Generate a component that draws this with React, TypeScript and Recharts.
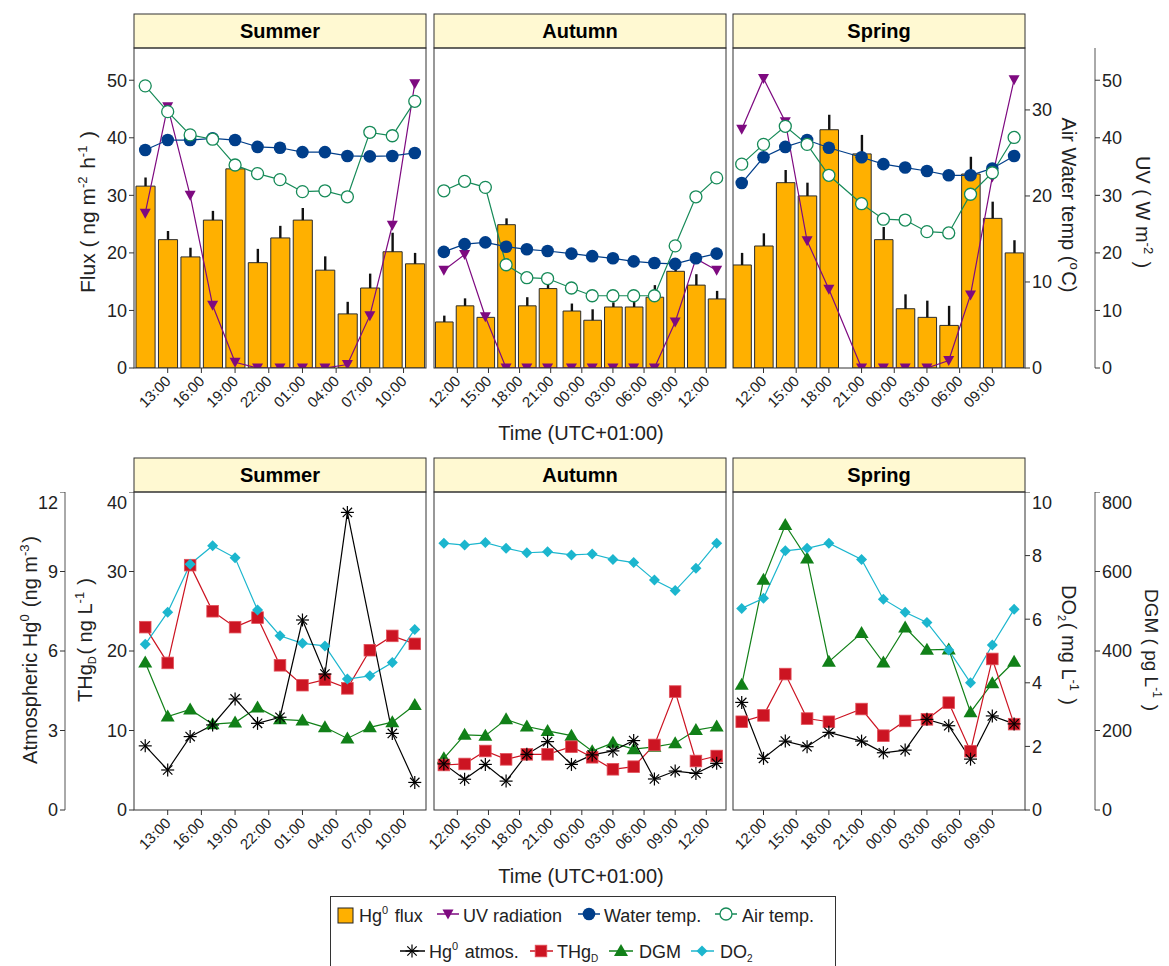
import React from 'react'
import { ComposedChart, Bar, Line, XAxis, YAxis, ErrorBar } from 'recharts'

const FONT = "'Liberation Sans', Arial, Helvetica, sans-serif"

// sampling times in hours after midnight of the first day (>24 = next day)
const summerHours = [11, 13, 15, 17, 19, 21, 23, 25, 27, 29, 31, 33, 35]
const autumnHours = [10.7, 12.7, 14.7, 16.7, 18.7, 20.7, 23, 25, 27, 29, 31, 33, 35, 37]
const springHours = [10, 12, 14, 16, 18, 21, 23, 25, 27, 29, 31, 33, 35]

const summerTicks = [13, 16, 19, 22, 25, 28, 31, 34]
const summerTickLabels = ['13:00', '16:00', '19:00', '22:00', '01:00', '04:00', '07:00', '10:00']
const autumnTicks = [12, 15, 18, 21, 24, 27, 30, 33, 36]
const autumnTickLabels = ['12:00', '15:00', '18:00', '21:00', '00:00', '03:00', '06:00', '09:00', '12:00']
const springTicks = [12, 15, 18, 21, 24, 27, 30, 33]
const springTickLabels = ['12:00', '15:00', '18:00', '21:00', '00:00', '03:00', '06:00', '09:00']

// Hg0 flux (ng m-2 h-1) and its upper error
const summerFlux = [31.6, 22.3, 19.3, 25.7, 34.6, 18.3, 22.6, 25.7, 17.0, 9.4, 13.9, 20.2, 18.1]
const summerFluxErr = [1.5, 1.5, 1.6, 1.6, 0.5, 2.4, 2.1, 2.1, 2.4, 2.1, 2.5, 3.3, 1.9]
const autumnFlux = [8.0, 10.8, 8.8, 24.9, 10.8, 13.8, 9.9, 8.3, 10.6, 10.6, 12.3, 16.8, 14.4, 12.0]
const autumnFluxErr = [1.1, 1.3, 0.5, 1.1, 1.5, 0.9, 1.3, 1.9, 0.8, 0.9, 2.1, 0.5, 1.9, 1.4]
const springFlux = [17.9, 21.2, 32.2, 29.9, 41.4, 37.2, 22.3, 10.3, 8.8, 7.4, 33.7, 26.0, 20.0]
const springFluxErr = [2.1, 2.2, 2.2, 2.3, 2.6, 3.3, 2.2, 2.5, 2.9, 3.4, 3.0, 2.9, 2.2]

// UV radiation (W m-2)
const summerUV = [26.9, 45.4, 30.0, 10.9, 1.0, 0, 0, 0, 0, 0.6, 9.1, 24.8, 49.4]
const autumnUV = [17.0, 19.7, 8.9, 0, 0, 0, 0, 0, 0, 0, 0, 8.0, 19.0, 17.0]
const springUV = [41.5, 50.3, 42.8, 22.1, 13.7, 0, 0, 0, 0, 1.3, 12.7, 33.2, 50.1]

// water and air temperature (°C)
const summerWater = [25.35, 26.5, 26.5, 26.7, 26.5, 25.7, 25.6, 25.1, 25.1, 24.65, 24.6, 24.65, 25.0]
const summerAir = [32.8, 29.8, 27.1, 26.6, 23.6, 22.6, 21.9, 20.5, 20.6, 19.9, 27.4, 27.0, 31.0]
const autumnWater = [13.5, 14.4, 14.6, 14.1, 13.8, 13.6, 13.3, 13.0, 12.75, 12.4, 12.2, 12.1, 12.75, 13.3]
const autumnAir = [20.6, 21.7, 21.0, 12.0, 10.5, 10.4, 9.3, 8.4, 8.4, 8.4, 8.4, 14.2, 19.9, 22.1]
const springWater = [21.5, 24.5, 25.7, 26.5, 25.6, 24.5, 23.7, 23.3, 22.9, 22.4, 22.4, 23.2, 24.65]
const springAir = [23.7, 26.0, 28.1, 26.0, 22.4, 19.1, 17.3, 17.2, 15.85, 15.7, 20.2, 22.7, 26.8]

// atmospheric Hg0 (ng m-3), THgD (ng L-1), DGM (pg L-1), DO2 (mg L-1)
const summerHgAtm = [2.42, 1.51, 2.77, 3.21, 4.19, 3.27, 3.5, 7.17, 5.13, 11.23, null, 2.89, 1.04]
const summerTHg = [23.0, 18.5, 30.8, 25.0, 23.0, 24.2, 18.2, 15.7, 16.4, 15.3, 20.1, 21.9, 20.9]
const summerDGM = [371, 235, 253, 216, 220, 258, 228, 225, 208, 180, 208, 221, 264]
const summerDO2 = [5.21, 6.22, 7.73, 8.31, 7.93, 6.29, 5.48, 5.24, 5.16, 4.12, 4.22, 4.64, 5.68]

const autumnHgAtm = [1.74, 1.16, 1.72, 1.09, 2.1, 2.58, 1.72, 2.08, 2.23, 2.62, 1.17, 1.47, 1.38, 1.76]
const autumnTHg = [5.66, 5.79, 7.42, 6.37, 7.0, 7.0, 7.96, 6.63, 5.12, 5.45, 8.18, 14.9, 6.16, 6.79]
const autumnDGM = [130, 189, 187, 228, 210, 199, 187, 148, 169, 153, 159, 168, 201, 210]
const autumnDO2 = [8.39, 8.33, 8.41, 8.23, 8.09, 8.12, 8.02, 8.05, 7.88, 7.78, 7.23, 6.9, 7.6, 8.39]

const springHgAtm = [4.06, 1.95, 2.6, 2.39, 2.93, 2.6, 2.16, 2.26, 3.42, 3.18, 1.92, 3.55, 3.25]
const springTHg = [11.1, 11.9, 17.1, 11.5, 11.1, 12.7, 9.35, 11.2, 11.4, 13.5, 7.4, 19.0, 10.8]
const springDGM = [315, 579, 717, 633, 373, 445, 371, 459, 403, 404, 246, 319, 373]
const springDO2 = [6.34, 6.66, 8.15, 8.23, 8.39, 7.88, 6.63, 6.22, 5.9, 5.03, 4.0, 5.19, 6.31]

const fluxTicks = [0, 10, 20, 30, 40, 50]
const tempTicks = [0, 10, 20, 30]
const uvTicks = [0, 10, 20, 30, 40, 50]
const hgTicks = [0, 3, 6, 9, 12]
const thgTicks = [0, 10, 20, 30, 40]
const do2Ticks = [0, 2, 4, 6, 8, 10]
const dgmTicks = [0, 200, 400, 600, 800]

const ORANGE = '#FFB000'
const PURPLE = '#7E0A80'
const NAVY = '#003E8A'
const TEAL = '#168A58'
const RED = '#CC1422'
const GREEN = '#118018'
const CYAN = '#1CB6CE'
const STRIP = '#FFF9D2'
const INK = '#222'

const seasons = [
  {
    name: 'Summer', hours: summerHours, domain: [10, 36], ticks: summerTicks, labels: summerTickLabels,
    flux: summerFlux, fluxErr: summerFluxErr, uv: summerUV, water: summerWater, air: summerAir,
    hg: summerHgAtm, thg: summerTHg, dgm: summerDGM, do2: summerDO2,
  },
  {
    name: 'Autumn', hours: autumnHours, domain: [9.75, 37.9], ticks: autumnTicks, labels: autumnTickLabels,
    flux: autumnFlux, fluxErr: autumnFluxErr, uv: autumnUV, water: autumnWater, air: autumnAir,
    hg: autumnHgAtm, thg: autumnTHg, dgm: autumnDGM, do2: autumnDO2,
  },
  {
    name: 'Spring', hours: springHours, domain: [9.2, 36], ticks: springTicks, labels: springTickLabels,
    flux: springFlux, fluxErr: springFluxErr, uv: springUV, water: springWater, air: springAir,
    hg: springHgAtm, thg: springTHg, dgm: springDGM, do2: springDO2,
  },
]

// panel geometry
const PANEL_LEFT = [134, 434, 733]
const PANEL_W = 292
const TOP_Y = 48
const TOP_H = 320
const BOT_Y = 492
const BOT_H = 318
const X_AXIS_H = 75
const STRIP_H = 34
const PAD = 40 // room for rotated tick labels left of inner panels

// ---- marker shapes, shared by the series and the legend ----
const TriDown = ({ cx, cy }: any) => (
  <polygon points={`${cx - 5.5},${cy - 4.5} ${cx + 5.5},${cy - 4.5} ${cx},${cy + 5.5}`} fill={PURPLE} />
)
const FilledCircle = ({ cx, cy }: any) => <circle cx={cx} cy={cy} r={6.3} fill={NAVY} />
const OpenCircle = ({ cx, cy }: any) => (
  <circle cx={cx} cy={cy} r={6} fill="#fff" stroke={TEAL} strokeWidth={1.3} />
)
const Star = ({ cx, cy }: any) => {
  const r = 6.5
  const d = r * 0.72
  return (
    <g stroke="#000" strokeWidth={1.2}>
      <line x1={cx - r} y1={cy} x2={cx + r} y2={cy} />
      <line x1={cx} y1={cy - r} x2={cx} y2={cy + r} />
      <line x1={cx - d} y1={cy - d} x2={cx + d} y2={cy + d} />
      <line x1={cx - d} y1={cy + d} x2={cx + d} y2={cy - d} />
    </g>
  )
}
const Square = ({ cx, cy }: any) => (
  <rect x={cx - 5.8} y={cy - 5.8} width={11.6} height={11.6} fill={RED} stroke="#E2505A" strokeWidth={0.8} />
)
const TriUp = ({ cx, cy }: any) => (
  <polygon points={`${cx - 7},${cy + 5} ${cx + 7},${cy + 5} ${cx},${cy - 7}`} fill={GREEN} />
)
const Diamond = ({ cx, cy }: any) => (
  <polygon points={`${cx},${cy - 5.5} ${cx + 5.5},${cy} ${cx},${cy + 5.5} ${cx - 5.5},${cy}`} fill={CYAN} />
)

const dotWith = (Shape: any) => (p: any) => {
  if (p.cx == null || p.cy == null || p.value == null || Number.isNaN(p.cy)) return <g key={`d-${p.index}`} />
  return <Shape key={`d-${p.index}`} cx={p.cx} cy={p.cy} />
}

const TimeTick = ({ x, y, payload, ticks, labels }: any) => {
  const label = labels[ticks.indexOf(payload.value)]
  const ax = x + 4
  const ay = y + 7
  return (
    <text x={ax} y={ay} transform={`rotate(-45 ${ax} ${ay})`} textAnchor="end" fontSize={15} fill={INK} fontFamily={FONT}>
      {label}
    </text>
  )
}

const yTick = { fontSize: 18, fill: INK, fontFamily: FONT }
const tickLine = { stroke: '#333' }

function timeAxis(s: any) {
  return (
    <XAxis
      dataKey="h"
      type="number"
      domain={s.domain}
      ticks={s.ticks}
      interval={0}
      allowDataOverflow
      axisLine={false}
      tickLine={tickLine}
      tickSize={5}
      height={X_AXIS_H}
      tick={(p: any) => <TimeTick {...p} ticks={s.ticks} labels={s.labels} />}
    />
  )
}

// y axes on one side are stacked outward in id order, so ids start with a/b
function TopPanel({ s, i }: any) {
  const first = i === 0
  const last = i === 2
  const leftW = first ? 134 : PAD
  const rightW = last ? 130 : 0
  const rows = s.hours.map((h: number, k: number) => ({
    h,
    flux: s.flux[k],
    fluxErr: [0, s.fluxErr[k]],
    uv: s.uv[k],
    water: s.water[k],
    air: s.air[k],
  }))
  const barSize = (1.7 * PANEL_W) / (s.domain[1] - s.domain[0])
  return (
    <div style={{ position: 'absolute', left: PANEL_LEFT[i] - leftW, top: TOP_Y }}>
      <ComposedChart
        width={leftW + PANEL_W + rightW}
        height={TOP_H + X_AXIS_H}
        data={rows}
        margin={{ top: 0, right: 0, bottom: 0, left: first ? 0 : PAD }}
      >
        {timeAxis(s)}
        <YAxis yAxisId="a_flux" domain={[0, 55.6]} ticks={fluxTicks} allowDataOverflow hide={!first} width={134}
          axisLine={false} tickLine={tickLine} tickSize={5} tick={yTick} />
        <YAxis yAxisId="a_temp" orientation="right" domain={[0, 37.2]} ticks={tempTicks} allowDataOverflow hide={!last}
          width={70} axisLine={false} tickLine={tickLine} tickSize={5} tick={yTick} />
        <YAxis yAxisId="b_uv" orientation="right" domain={[0, 55.6]} ticks={uvTicks} allowDataOverflow hide={!last}
          width={60} axisLine={{ stroke: '#555' }} tickLine={tickLine} tickSize={5} tick={yTick} />
        <Bar yAxisId="a_flux" dataKey="flux" fill={ORANGE} stroke="#2b2b2b" strokeWidth={1} barSize={barSize}
          isAnimationActive={false}>
          <ErrorBar dataKey="fluxErr" direction="y" width={0} stroke="#111" strokeWidth={2.4} />
        </Bar>
        <Line yAxisId="b_uv" dataKey="uv" stroke={PURPLE} strokeWidth={1.2} dot={dotWith(TriDown)} activeDot={false}
          isAnimationActive={false} />
        <Line yAxisId="a_temp" dataKey="water" stroke={NAVY} strokeWidth={1.2} dot={dotWith(FilledCircle)}
          activeDot={false} isAnimationActive={false} />
        <Line yAxisId="a_temp" dataKey="air" stroke={TEAL} strokeWidth={1.2} dot={dotWith(OpenCircle)}
          activeDot={false} isAnimationActive={false} />
      </ComposedChart>
    </div>
  )
}

function BottomPanel({ s, i }: any) {
  const first = i === 0
  const last = i === 2
  const leftW = first ? 134 : PAD
  const rightW = last ? 130 : 0
  const rows = s.hours.map((h: number, k: number) => ({
    h,
    hg: s.hg[k],
    thg: s.thg[k],
    dgm: s.dgm[k],
    do2: s.do2[k],
  }))
  return (
    <div style={{ position: 'absolute', left: PANEL_LEFT[i] - leftW, top: BOT_Y }}>
      <ComposedChart
        width={leftW + PANEL_W + rightW}
        height={BOT_H + X_AXIS_H}
        data={rows}
        margin={{ top: 0, right: 0, bottom: 0, left: first ? 0 : PAD }}
      >
        {timeAxis(s)}
        <YAxis yAxisId="a_thg" domain={[0, 40]} ticks={thgTicks} allowDataOverflow hide={!first} width={69}
          axisLine={false} tickLine={tickLine} tickSize={5} tick={yTick} />
        <YAxis yAxisId="b_hg" domain={[0, 12]} ticks={hgTicks} allowDataOverflow hide={!first} width={65}
          axisLine={{ stroke: '#555' }} tickLine={tickLine} tickSize={5} tick={yTick} />
        <YAxis yAxisId="a_do2" orientation="right" domain={[0, 10]} ticks={do2Ticks} allowDataOverflow hide={!last}
          width={70} axisLine={false} tickLine={tickLine} tickSize={5} tick={yTick} />
        <YAxis yAxisId="b_dgm" orientation="right" domain={[0, 800]} ticks={dgmTicks} allowDataOverflow hide={!last}
          width={60} axisLine={{ stroke: '#555' }} tickLine={tickLine} tickSize={5} tick={yTick} />
        <Line yAxisId="b_dgm" dataKey="dgm" stroke={GREEN} strokeWidth={1.2} dot={dotWith(TriUp)} activeDot={false}
          isAnimationActive={false} />
        <Line yAxisId="a_thg" dataKey="thg" stroke={RED} strokeWidth={1.2} dot={dotWith(Square)} activeDot={false}
          isAnimationActive={false} />
        <Line yAxisId="a_do2" dataKey="do2" stroke={CYAN} strokeWidth={1.2} dot={dotWith(Diamond)} activeDot={false}
          isAnimationActive={false} />
        <Line yAxisId="b_hg" dataKey="hg" stroke="#000" strokeWidth={1.2} dot={dotWith(Star)} activeDot={false}
          connectNulls isAnimationActive={false} />
      </ComposedChart>
    </div>
  )
}

const Sup = ({ children, size = 13 }: any) => (
  <>
    <tspan dy={-8} fontSize={size}>{children}</tspan>
    <tspan dy={8}>{'\u200a'}</tspan>
  </>
)
const Sub = ({ children, size = 11 }: any) => (
  <>
    <tspan dy={4} fontSize={size}>{children}</tspan>
    <tspan dy={-4}>{'\u200a'}</tspan>
  </>
)

function Frames() {
  return (
    <svg width={1169} height={966} style={{ position: 'absolute', left: 0, top: 0, pointerEvents: 'none' }}
      fontFamily={FONT} fill={INK}>
      {seasons.map((s, i) => (
        <g key={s.name}>
          {[[TOP_Y, TOP_H], [BOT_Y, BOT_H]].map(([y, h]) => (
            <g key={y}>
              <rect x={PANEL_LEFT[i]} y={y - STRIP_H} width={PANEL_W} height={STRIP_H} fill={STRIP} stroke="#333" />
              <text x={PANEL_LEFT[i] + PANEL_W / 2} y={y - STRIP_H / 2 + 7} textAnchor="middle" fontSize={20}
                fontWeight="bold" fill="#000">{s.name}</text>
              <rect x={PANEL_LEFT[i]} y={y} width={PANEL_W} height={h} fill="none" stroke="#333" />
            </g>
          ))}
        </g>
      ))}

      {/* axis titles, top row */}
      <text transform="translate(95 212) rotate(-90)" textAnchor="middle" fontSize={21}>
        Flux  ( ng m<Sup>-2</Sup> h<Sup>-1</Sup>  )
      </text>
      <text transform="translate(1062 205) rotate(90)" textAnchor="middle" fontSize={20}>
        Air Water temp  (<Sup>o</Sup>C)
      </text>
      <text transform="translate(1136 212) rotate(90)" textAnchor="middle" fontSize={20}>
        UV  ( W m<Sup>-2</Sup> )
      </text>
      <text x={581} y={440} textAnchor="middle" fontSize={20}>Time (UTC+01:00)</text>

      {/* axis titles, bottom row */}
      <text transform="translate(37 650) rotate(-90)" textAnchor="middle" fontSize={20}>
        Atmospheric Hg<Sup>0</Sup> (ng m<Sup>-3</Sup>)
      </text>
      <text transform="translate(92 640) rotate(-90)" textAnchor="middle" fontSize={20}>
        THg<Sub>D</Sub>( ng L<Sup>-1</Sup> )
      </text>
      <text transform="translate(1062 645) rotate(90)" textAnchor="middle" fontSize={20}>
        DO<Sub>2</Sub>( mg L<Sup>-1</Sup> )
      </text>
      <text transform="translate(1145 650) rotate(90)" textAnchor="middle" fontSize={19}>
        DGM  ( pg L<Sup size={12}>-1</Sup> )
      </text>
      <text x={581} y={883} textAnchor="middle" fontSize={20}>Time (UTC+01:00)</text>

      {/* legend */}
      <rect x={330.5} y={896.5} width={505} height={90} fill="#fff" stroke="#333" />
      <g fontSize={18}>
        <rect x={338} y={908} width={15} height={15} fill={ORANGE} stroke="#222" />
        <text x={359} y={922}>Hg<Sup size={11}>0</Sup> flux</text>

        <line x1={437} x2={459} y1={914} y2={914} stroke={PURPLE} strokeWidth={1.5} />
        <TriDown cx={448} cy={914} />
        <text x={463} y={922}>UV radiation</text>

        <line x1={578} x2={600} y1={914} y2={914} stroke={NAVY} strokeWidth={1.5} />
        <FilledCircle cx={589} cy={914} />
        <text x={604} y={922}>Water temp.</text>

        <line x1={715} x2={737} y1={914} y2={914} stroke={TEAL} strokeWidth={1.5} />
        <OpenCircle cx={726} cy={914} />
        <text x={742} y={922}>Air temp.</text>

        <line x1={400} x2={425} y1={951} y2={951} stroke="#000" strokeWidth={1.5} />
        <Star cx={412} cy={951} />
        <text x={429} y={958}>Hg<Sup size={11}>0</Sup> atmos.</text>

        <line x1={530} x2={553} y1={951} y2={951} stroke={RED} strokeWidth={1.5} />
        <Square cx={541} cy={951} />
        <text x={557} y={958}>THg<Sub size={10}>D</Sub></text>

        <line x1={609} x2={633} y1={951} y2={951} stroke={GREEN} strokeWidth={1.5} />
        <TriUp cx={621} cy={951} />
        <text x={639} y={958}>DGM</text>

        <line x1={691} x2={714} y1={951} y2={951} stroke={CYAN} strokeWidth={1.5} />
        <Diamond cx={702} cy={951} />
        <text x={720} y={958}>DO<Sub size={10}>2</Sub></text>
      </g>
    </svg>
  )
}

export default function App() {
  return (
    <div style={{ position: 'absolute', left: 0, top: 0, width: 1169, height: 966, background: '#fff', fontFamily: FONT, overflow: 'hidden' }}>
      {seasons.map((s, i) => (
        <TopPanel key={`t-${s.name}`} s={s} i={i} />
      ))}
      {seasons.map((s, i) => (
        <BottomPanel key={`b-${s.name}`} s={s} i={i} />
      ))}
      <Frames />
    </div>
  )
}
